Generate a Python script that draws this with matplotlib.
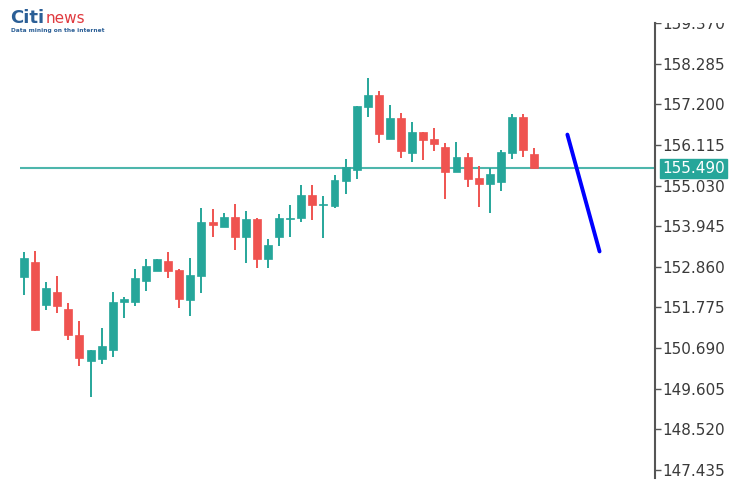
import matplotlib
matplotlib.use("Agg")
import matplotlib.pyplot as plt
from matplotlib.patches import Rectangle
import matplotlib.transforms as mtransforms

# ---- data ----
opens = [152.588, 152.988, 151.842, 152.188, 151.735, 151.042, 150.349, 150.402, 150.642, 151.922,
         151.922, 152.482, 152.748, 153.015, 152.775, 151.975, 152.615, 154.054, 153.921, 154.188,
         153.654, 154.134, 153.068, 153.654, 154.134, 154.161, 154.774, 154.508, 154.481, 155.147,
         155.440, 157.121, 157.440, 156.267, 156.827, 155.894, 156.454, 156.267, 156.054, 155.387,
         155.787, 155.227, 155.067, 155.121, 155.894, 156.854, 155.867]
highs = [153.255, 153.281, 152.455, 152.615, 151.895, 151.415, 150.642, 151.229, 152.188, 152.055,
         152.801, 153.068, 153.068, 153.255, 152.801, 153.095, 154.427, 154.401, 154.294, 154.534,
         154.348, 154.161, 153.601, 154.268, 154.508, 155.041, 155.041, 154.747, 155.307, 155.734,
         157.147, 157.893, 157.547, 157.173, 156.960, 156.720, 156.454, 156.560, 156.160, 156.187,
         155.894, 155.547, 155.494, 155.974, 156.933, 156.933, 156.027]
lows = [152.108, 151.150, 151.708, 151.628, 150.909, 150.216, 149.389, 150.269, 150.456, 151.495,
        151.815, 152.215, 152.748, 152.562, 151.762, 151.548, 152.162, 153.654, 153.921, 153.308,
        152.961, 152.828, 152.828, 153.415, 153.654, 154.054, 154.108, 153.628, 154.428, 154.801,
        155.201, 156.854, 156.160, 156.267, 155.761, 155.654, 155.707, 155.947, 154.667, 155.387,
        154.988, 154.454, 154.294, 154.881, 155.734, 155.787, 155.467]
closes = [153.095, 151.175, 152.295, 151.815, 151.042, 150.429, 150.642, 150.749, 151.922, 152.002,
          152.562, 152.881, 153.068, 152.748, 152.002, 152.641, 154.054, 153.974, 154.188, 153.654,
          154.134, 153.068, 153.441, 154.161, 154.161, 154.774, 154.508, 154.534, 155.174, 155.520,
          157.147, 157.440, 156.400, 156.827, 155.947, 156.454, 156.240, 156.134, 155.387, 155.787,
          155.201, 155.067, 155.334, 155.920, 156.854, 155.974, 155.490]
last_price = 155.490
tick_values = [147.435, 148.520, 149.605, 150.690, 151.775, 152.860,
               153.945, 155.030, 156.115, 157.200, 158.285, 159.370]
trend_x = [49.0, 51.9]
trend_y = [156.39, 153.27]

UP = "#26a69a"
DOWN = "#ef5350"

W, H = 751, 494
fig = plt.figure(figsize=(W / 100, H / 100), dpi=100)
fig.patch.set_facecolor("white")

left_px, right_px, top_px, bottom_px = 20, 655, 23, 478
ax = fig.add_axes([left_px / W, 1 - bottom_px / H,
                   (right_px - left_px) / W, (bottom_px - top_px) / H])
ax.set_facecolor("white")

body_w = 0.72
for i, (o, h, l, c) in enumerate(zip(opens, highs, lows, closes)):
    col = UP if c >= o else DOWN
    ax.plot([i, i], [l, h], color=col, lw=1.4, solid_capstyle="butt", zorder=2)
    bottom = min(o, c)
    height = max(abs(c - o), 0.03)
    ax.add_patch(Rectangle((i - body_w / 2, bottom), body_w, height,
                           facecolor=col, edgecolor=col, lw=0.5, zorder=3))

ax.axhline(last_price, color="#4db6ac", lw=1.5, zorder=1)
ax.plot(trend_x, trend_y, color="#0000ff", lw=2.8, solid_capstyle="round", zorder=4)

ax.set_xlim(-0.36, 56.9)
ax.set_ylim(147.22, 159.36)

for s in ["left", "top", "bottom"]:
    ax.spines[s].set_visible(False)
ax.spines["right"].set_color("#555555")
ax.spines["right"].set_linewidth(1.5)
ax.set_xticks([])
ax.yaxis.tick_right()
ax.set_yticks(tick_values)
ax.set_yticklabels([f"{v:.3f}" for v in tick_values])
ax.tick_params(axis="y", direction="out", length=4, width=1, color="#555555",
               labelsize=11, labelcolor="#3a3a3a", pad=1)

# last price label
trans = mtransforms.blended_transform_factory(ax.transAxes, ax.transData)
ax.text(1.0 + 7 / (right_px - left_px), last_price, f"{last_price:.3f}",
        transform=trans, ha="left", va="center", fontsize=11, color="white",
        bbox=dict(boxstyle="square,pad=0.15", facecolor=UP, edgecolor=UP),
        clip_on=False, zorder=6)

# white band covering the cut-off top label (as in the cropped screenshot)
fig.add_artist(Rectangle((656.5 / W, 1 - 23.5 / H), (W - 656.5) / W, 23.5 / H,
                         transform=fig.transFigure, facecolor="white",
                         edgecolor="none", zorder=10))

# logo
fig.text(10 / W, 1 - 23 / H, "Citi", fontsize=13, fontweight="bold",
         color="#2b5f96", ha="left", va="baseline", zorder=11)
fig.text(46 / W, 1 - 23 / H, "news", fontsize=11, color="#e0393e",
         ha="left", va="baseline", zorder=11)
fig.text(11 / W, 1 - 30.5 / H, "Data mining on the internet", fontsize=4.2,
         fontweight="bold", color="#2b5f96", ha="left", va="center", zorder=11)

fig.savefig("out.png", dpi=100, facecolor="white")
